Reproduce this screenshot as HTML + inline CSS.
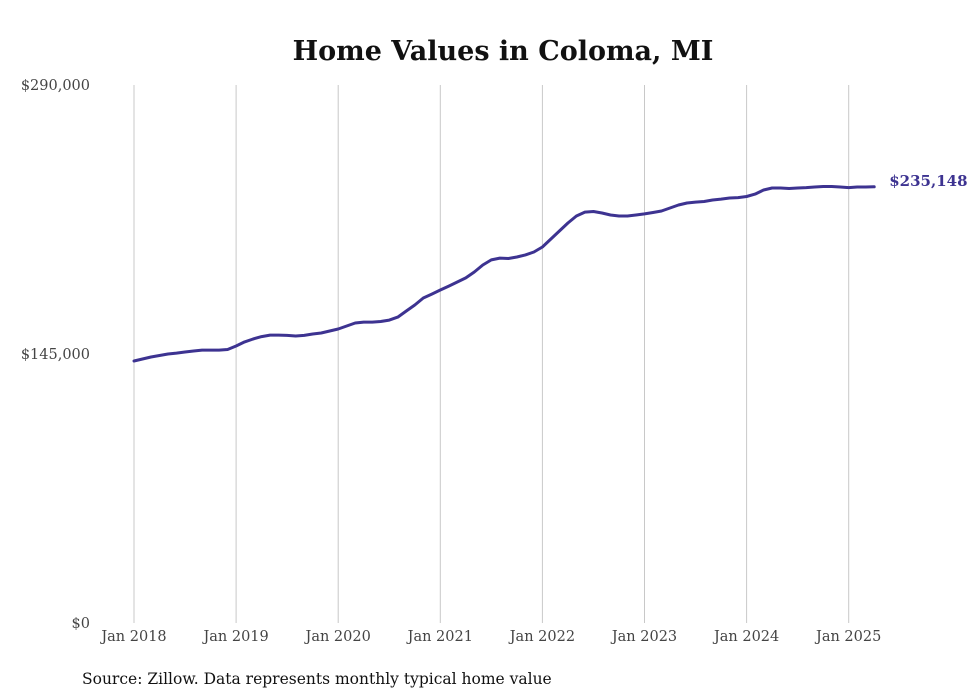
<!DOCTYPE html>
<html><head><meta charset="utf-8"><style>
html,body{margin:0;padding:0;background:#fff;}
svg{display:block;font-family:"DejaVu Serif","Liberation Serif",serif;}
</style></head><body>
<svg id="chart" width="980" height="699" viewBox="0 0 980 699">
<text x="503" y="60" text-anchor="middle" font-size="27" font-weight="bold" fill="#111">Home Values in Coloma, MI</text>
<g id="grid"></g><g id="yticks"></g><g id="xticks"></g>
<path id="line" fill="none" stroke="#3d3391" stroke-width="3" stroke-linejoin="round" stroke-linecap="round"/>
<text id="endlabel" font-size="15" font-weight="bold" fill="#3d3391"></text>
<text x="82" y="684" font-size="15.5" fill="#111">Source: Zillow. Data represents monthly typical home value</text>
</svg>
<script>
const yTickValues=[0,145000,290000];
const yTickLabels=["$0","$145,000","$290,000"];
const xTickYears=[2018,2019,2020,2021,2022,2023,2024,2025];
const xTickLabels=["Jan 2018","Jan 2019","Jan 2020","Jan 2021","Jan 2022","Jan 2023","Jan 2024","Jan 2025"];
const startYear=2018;
const values=[
141200,142300,143400,144200,145000,145500,146100,146600,147100,147100,147100,147400,
149300,151500,153100,154400,155200,155200,155000,154700,155000,155800,156300,157400,
158500,160100,161700,162200,162200,162500,163300,164900,168200,171400,175200,177300,
179500,181600,183800,186000,189200,193000,195700,196700,196500,197300,198400,200000,
202700,207000,211300,215600,219400,221500,221800,221000,219900,219400,219400,219900,
220500,221300,222100,223700,225300,226400,226900,227200,228000,228500,229100,229300,
229900,231200,233400,234500,234500,234200,234500,234700,235000,235300,235300,235000,
234700,235000,235000,235148];
const NS="http://www.w3.org/2000/svg";
const x0=134, pxPerYear=102.1, yBase=623, yTop=85, yMax=290000;
function xs(monthIndex){return x0+pxPerYear*monthIndex/12;}
function ys(v){return yBase-(v/yMax)*(yBase-yTop);}
const grid=document.getElementById('grid'),xt=document.getElementById('xticks'),yt=document.getElementById('yticks');
xTickYears.forEach((yr,i)=>{
 const x=xs((yr-startYear)*12);
 const l=document.createElementNS(NS,'line');
 l.setAttribute('x1',x);l.setAttribute('x2',x);l.setAttribute('y1',yTop);l.setAttribute('y2',yBase);
 l.setAttribute('stroke','#c8c8c8');l.setAttribute('stroke-width','1');
 
 
 grid.appendChild(l);
 const t=document.createElementNS(NS,'text');
 t.setAttribute('x',x);t.setAttribute('y',641);t.setAttribute('text-anchor','middle');
 t.setAttribute('font-size','14.5');t.setAttribute('fill','#444');
 t.textContent=xTickLabels[i];
 
 
 xt.appendChild(t);
});
yTickValues.forEach((v,i)=>{
 const t=document.createElementNS(NS,'text');
 t.setAttribute('x',90);t.setAttribute('y',ys(v)+5);t.setAttribute('text-anchor','end');
 t.setAttribute('font-size','14.5');t.setAttribute('fill','#444');
 t.textContent=yTickLabels[i];
 
 
 yt.appendChild(t);
});
let d='';
values.forEach((v,i)=>{d+=(i?'L':'M')+xs(i).toFixed(1)+','+ys(v).toFixed(1);});
document.getElementById('line').setAttribute('d',d);
const last=values[values.length-1];
const el=document.getElementById('endlabel');
el.setAttribute('x',xs(values.length-1)+15);
el.setAttribute('y',ys(last)-1);
el.textContent='$'+last.toLocaleString('en-US');
</script>
</body></html>
